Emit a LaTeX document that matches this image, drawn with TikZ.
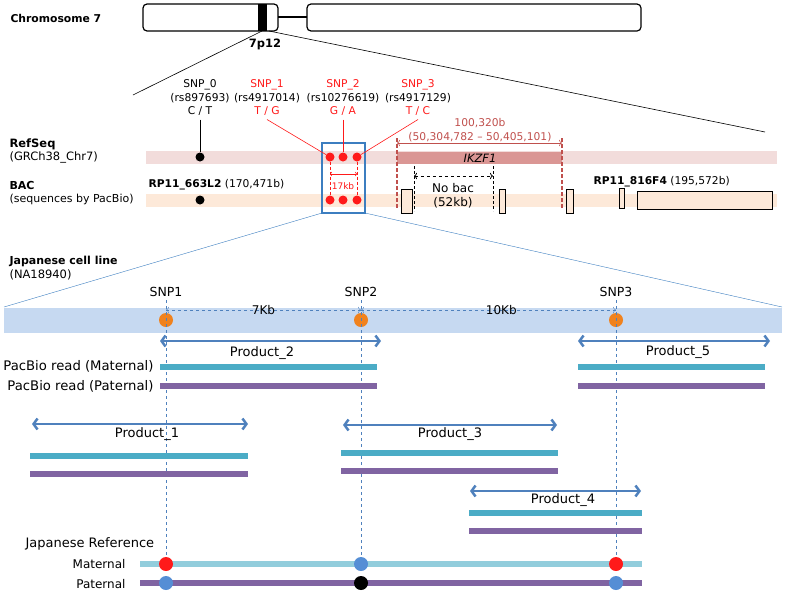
\documentclass[tikz,border=0pt]{standalone}
\usepackage{fontspec}
\setmainfont{DejaVu Sans}
\usetikzlibrary{positioning,arrows.meta}
\definecolor{snpred}{HTML}{FF1A1A}
\definecolor{genered}{HTML}{C0504D}
\definecolor{bandpink}{HTML}{F2DCDB}
\definecolor{genebox}{HTML}{DA9694}
\definecolor{peach}{HTML}{FDE9D9}
\definecolor{boxblue}{HTML}{3C7EC0}
\definecolor{cellband}{HTML}{C6D9F1}
\definecolor{snporange}{HTML}{F0821E}
\definecolor{arrowblue}{HTML}{4F81BD}
\definecolor{readteal}{HTML}{4BACC6}
\definecolor{readpurple}{HTML}{8064A2}
\definecolor{refteal}{HTML}{92CDDC}
\definecolor{dotblue}{HTML}{558ED5}

\begin{document}
\begin{tikzpicture}[x=1pt,y=-1pt,font=\fontsize{10.7}{13.5}\selectfont,
  chrom/.style={draw,line width=1.2pt,rounded corners=4pt},
  dot/.style={circle,inner sep=0pt,minimum size=9pt},
  big dot/.style={circle,inner sep=0pt,minimum size=14pt},
  contig/.style={draw,line width=1pt,fill=peach},
  label node/.style={anchor=west,align=left},
  snp node/.style={align=center},
  prod label/.style={font=\fontsize{13}{15}\selectfont},
  read label/.style={font=\fontsize{13.2}{16}\selectfont},
  prod/.style={{Straight Barb[length=4pt,width=11pt]}-{Straight Barb[length=4pt,width=11pt]},line width=2.5pt,arrowblue},
  read/.style={line width=6pt},
  snp line/.style={dashed,arrowblue,thin},
  dist/.style={dashed,arrowblue,thin,{To[length=3pt]}-{To[length=3pt]}}]
\useasboundingbox (0,0) rectangle (787,595);

\node[label node,font=\fontsize{10.8}{13}\selectfont\bfseries] (chr) at (7,18) {Chromosome 7};
\fill (258,4) rectangle (267,31);
\draw[chrom] (143,4) rectangle (278,31);
\draw[line width=1.2pt] (278,17) -- (307,17);
\draw[chrom] (307,4) rectangle (641,31);
\node[font=\fontsize{11.5}{13}\selectfont\bfseries] (band) at (265,44) {7p12};
\coordinate (bandL) at (262,31);
\coordinate (bandR) at (269,31);
\coordinate (zoomL) at (133,95);
\coordinate (zoomR) at (765,132);
\draw[semithick] (bandL) -- (zoomL);
\draw[semithick] (bandR) -- (zoomR);

\node[label node,font=\fontsize{11.5}{13.5}\selectfont] (refseq) at (6,151) {\textbf{RefSeq}\\(GRCh38\_Chr7)};
\node[label node,font=\fontsize{11}{13.5}\selectfont] (bac) at (6,193) {\textbf{BAC}\\(sequences by PacBio)};
\fill[bandpink] (146,151) rectangle (777,164);
\fill[peach] (146,194) rectangle (777,207);
\fill[genebox] (397,152) rectangle (562,164);
\node[font=\fontsize{11.5}{13}\selectfont\itshape] (ikzf) at (480,158) {IKZF1};

\draw[boxblue,line width=1.2pt] (322,143) rectangle (365,213);
\coordinate (boxL) at (322,213);
\coordinate (boxR) at (365,213);

\node[snp node] (snp0) at (200,98) {SNP\_0\\(rs897693)\\C / T};
\node[snp node] (snp1) at (267,98) {\textcolor{snpred}{SNP\_1}\\(rs4917014)\\\textcolor{snpred}{T / G}};
\node[snp node] (snp2) at (343,98) {\textcolor{snpred}{SNP\_2}\\(rs10276619)\\\textcolor{snpred}{G / A}};
\node[snp node] (snp3) at (418,98) {\textcolor{snpred}{SNP\_3}\\(rs4917129)\\\textcolor{snpred}{T / C}};

\node[dot,fill=black] (r0) at (200,157) {};
\node[dot,fill=snpred] (r1) at (330,157) {};
\node[dot,fill=snpred] (r2) at (343,157) {};
\node[dot,fill=snpred] (r3) at (357,157) {};
\node[dot,fill=black] (b0) at (200,200) {};
\node[dot,fill=snpred] (b1) at (330,200) {};
\node[dot,fill=snpred] (b2) at (343,200) {};
\node[dot,fill=snpred] (b3) at (357,200) {};
\draw[semithick] (snp0.south) -- (r0);
\draw[snpred,semithick] (snp1.south) -- (r1);
\draw[snpred,semithick] (snp2.south) -- (r2);
\draw[snpred,semithick] (snp3.south) -- (r3);

\draw[snpred,densely dashed] (r1) -- (b1);
\draw[snpred,densely dashed] (r3) -- (b3);
\draw[snpred,semithick,{To[length=2pt]}-{To[length=2pt]}] (330,174) -- (357,174);
\node[snpred,font=\fontsize{9}{10}\selectfont] (kb17) at (343,186) {17kb};

\node[genered,align=center] (genelen) at (480,130) {100,320b\\(50,304,782 -- 50,405,101)};
\draw[genered,line width=1.5pt,dash pattern=on 4pt off 2pt] (397,138) -- (397,208);
\draw[genered,line width=1.5pt,dash pattern=on 4pt off 2pt] (562,138) -- (562,208);
\draw[genered,semithick,{To[length=3pt]}-{To[length=3pt]}] (397,143) -- (562,143);

\draw[densely dashed] (414,166) -- (414,211);
\draw[densely dashed] (493,166) -- (493,211);
\draw[dashed,thick,{To[length=3pt]}-{To[length=3pt]}] (414,176) -- (493,176);
\node[align=center,font=\fontsize{12}{14}\selectfont] (nobac) at (453,196) {No bac\\(52kb)};

\draw[contig] (401,189) rectangle (412,213);
\draw[contig] (499,189) rectangle (505,213);
\draw[contig] (566,189) rectangle (573,213);
\draw[contig] (619,188) rectangle (624,208);
\draw[contig] (637,191) rectangle (772,209);
\node[anchor=west] (bacA) at (145,185) {\textbf{RP11\_663L2} (170,471b)};
\node[anchor=west] (bacB) at (590,182) {\textbf{RP11\_816F4} (195,572b)};

\node[label node,font=\fontsize{11.5}{14}\selectfont] (cell) at (6,268) {{\fontsize{11}{13}\selectfont\bfseries Japanese cell line}\\(NA18940)};
\fill[cellband] (4,308) rectangle (782,333);
\coordinate (cellL) at (4,307);
\coordinate (cellR) at (782,307);
\draw[boxblue] (boxL) -- (cellL);
\draw[boxblue] (boxR) -- (cellR);

\node[font=\fontsize{12.5}{14}\selectfont] (snpA) at (166,292) {SNP1};
\node[font=\fontsize{12.5}{14}\selectfont] (snpB) at (361,292) {SNP2};
\node[font=\fontsize{12.5}{14}\selectfont] (snpC) at (616,292) {SNP3};

\draw[read,refteal] (140,564) -- (642,564);
\draw[read,readpurple] (140,583) -- (642,583);
\node[big dot,fill=snpred] (m1) at (166,564) {};
\node[big dot,fill=dotblue] (m2) at (361,564) {};
\node[big dot,fill=snpred] (m3) at (616,564) {};
\node[big dot,fill=dotblue] (f1) at (166,583) {};
\node[big dot,fill=black] (f2) at (361,583) {};
\node[big dot,fill=dotblue] (f3) at (616,583) {};

\node[big dot,fill=snporange] (o1) at (166,320) {};
\node[big dot,fill=snporange] (o2) at (361,320) {};
\node[big dot,fill=snporange] (o3) at (616,320) {};
\draw[snp line] (snpA.south) -- (m1);
\draw[snp line] (snpB.south) -- (m2);
\draw[snp line] (snpC.south) -- (m3);
\coordinate (d1) at (166,310);
\coordinate (d2) at (361,310);
\coordinate (d3) at (616,310);
\draw[dist] (d1) -- node[text=black,font=\fontsize{12}{14}\selectfont] (kb7) {7Kb} (d2);
\draw[dist] (d2) -- node[pos=0.55,text=black,font=\fontsize{12}{14}\selectfont] (kb10) {10Kb} (d3);

\node[anchor=east,read label] (mat) at (157,366) {PacBio read (Maternal)};
\node[anchor=east,read label] (pat) at (157,386) {PacBio read (Paternal)};

\draw[prod] (160,341) -- (381,341);
\node[prod label] (prod2) at (262,353) {Product\_2};
\draw[read,readteal] (160,367) -- (377,367);
\draw[read,readpurple] (160,386) -- (377,386);

\draw[prod] (578,341) -- (770,341);
\node[prod label] (prod5) at (678,352) {Product\_5};
\draw[read,readteal] (578,367) -- (765,367);
\draw[read,readpurple] (578,386) -- (765,386);

\draw[prod] (32,424) -- (248,424);
\node[prod label] (prod1) at (147,434) {Product\_1};
\draw[read,readteal] (30,456) -- (248,456);
\draw[read,readpurple] (30,474) -- (248,474);

\draw[prod] (343,425) -- (557,425);
\node[prod label] (prod3) at (450,434) {Product\_3};
\draw[read,readteal] (341,453) -- (558,453);
\draw[read,readpurple] (341,471) -- (558,471);

\draw[prod] (470,491) -- (641,491);
\node[prod label] (prod4) at (563,500) {Product\_4};
\draw[read,readteal] (469,513) -- (642,513);
\draw[read,readpurple] (469,531) -- (642,531);

\node[anchor=west,font=\fontsize{13}{15}\selectfont] (jref) at (22,544) {Japanese Reference};
\node[anchor=east,font=\fontsize{12}{14}\selectfont] (matref) at (129,564) {Maternal};
\node[anchor=east,font=\fontsize{12}{14}\selectfont] (patref) at (129,584) {Paternal};
\end{tikzpicture}
\end{document}
